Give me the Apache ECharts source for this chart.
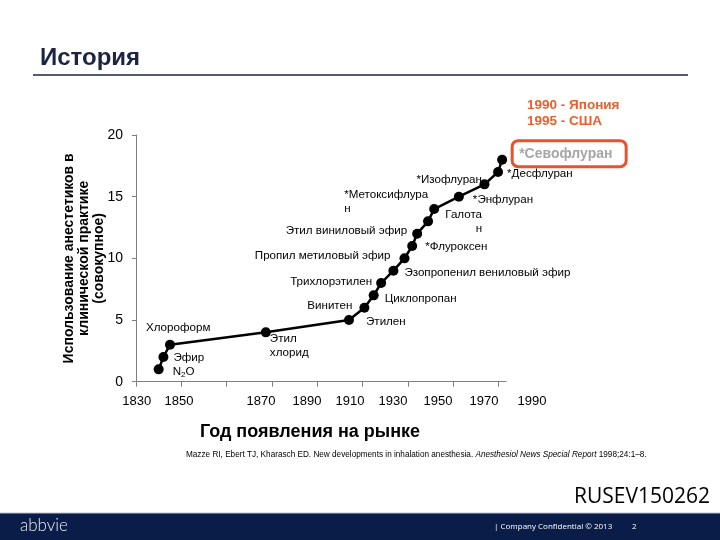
<!DOCTYPE html>
<html><head><meta charset="utf-8">
<script src="https://cdn.jsdelivr.net/npm/echarts@6/dist/echarts.min.js"></script>
<style>html,body{margin:0;padding:0;background:#fff}#c{width:720px;height:540px}</style>
</head><body><div id="c"></div>
<script>
// ---- data ----
const agentNames = ['N₂O','Эфир','Хлороформ','Этил\nхлорид','Этилен','Винитен','Циклопропан','Трихлорэтилен',
  'Эзопропенил вениловый эфир','Пропил метиловый эфир','*Флуроксен','Этил виниловый эфир','Галота\nн',
  '*Метоксифлура\nн','*Энфлуран','*Изофлуран','*Десфлуран','*Севофлуран'];
const introYears = [1840, 1842.1, 1845, 1887.3, 1924, 1930.8, 1934.9, 1938.2, 1943.6, 1948.5, 1951.9, 1954.1,
  1958.9, 1961.6, 1972.5, 1983.8, 1989.8, 1991.6];
const cumulativeCount = [1,2,3,4,5,6,7,8,9,10,11,12,13,14,15,16,17,18];
const xTickValues = [1830,1850,1870,1890,1910,1930,1950,1970,1990];
const xTickLabels = ['1830','1850','1870','1890','1910','1930','1950','1970','1990'];
// ---- layout (label placement relative to each point) ----
const xTickLabelPos = [1830.3, 1849, 1885.2, 1905.5, 1924.5, 1943.5, 1963.3, 1983.6, 2004.8];
const labelLayout = [
  [14,2,'left'],[10,1,'left'],[-24,-17,'left'],[4,13,'left'],[17,2,'left'],[-12,-2,'right'],
  [11,3,'left'],[-9,-1,'right'],[11,2,'left'],[-14,-3,'right'],[13,1,'left'],[-10,-3,'right'],
  [54,0,'right'],[-90,-7,'left'],[14,3.5,'left'],[-68,-4.5,'left'],[9,2,'left'],[10,-6,'left']
];
const FONT = '"Liberation Sans", Arial, sans-serif';

const seriesData = introYears.map((x, i) => {
  const [dx, dy, al] = labelLayout[i];
  const lbl = {
    show: true, position: 'inside', offset: [dx, dy], align: al, verticalAlign: 'middle',
    color: '#000', fontSize: 11.6, fontFamily: FONT, lineHeight: 14, textBorderWidth: 0,
    formatter: agentNames[i]
  };
  if (i === 0) {
    lbl.formatter = '{a|N}{s|2}{a|O}';
    lbl.rich = { a: {fontSize: 11.6, color: '#000', fontFamily: FONT}, s: {fontSize: 8, color: '#000', fontFamily: FONT, verticalAlign: 'bottom', padding: [6,0,0,0]} };
  }
  if (i === agentNames.length - 1) {
    Object.assign(lbl, {
      color: '#a6a6a6', fontWeight: 'bold', fontSize: 14, lineHeight: 16, width: 100,
      padding: [5, 7], borderColor: '#e8532b', borderWidth: 3, borderRadius: 6
    });
  }
  return { value: [x, cumulativeCount[i]], label: lbl };
});

const chart = echarts.init(document.getElementById('c'), null, {renderer: 'canvas'});
chart.setOption({
  animation: false,
  backgroundColor: '#fff',
  textStyle: {fontFamily: FONT},
  grid: [
    {left: 136, top: 135, width: 370, height: 246.7},
    {left: 136, top: 135, width: 407.7, height: 246.7}
  ],
  xAxis: [
    { type: 'value', gridIndex: 0, min: 1830, max: 1993.3,
      axisLine: {show: true, lineStyle: {color: '#7f7f7f', width: 1}},
      axisTick: {show: true, customValues: xTickValues, length: 5, lineStyle: {color: '#7f7f7f'}},
      axisLabel: {show: false}, splitLine: {show: false} },
    { type: 'value', gridIndex: 1, min: 1830, max: 2010,
      axisLine: {show: false}, axisTick: {show: false}, splitLine: {show: false},
      axisLabel: { show: true, customValues: xTickLabelPos, margin: 13, fontSize: 13, color: '#000', fontFamily: FONT,
        formatter: (v) => { const k = xTickLabelPos.findIndex(p => Math.abs(p - v) < 0.01); return k >= 0 ? xTickLabels[k] : ''; } } }
  ],
  yAxis: [
    { type: 'value', gridIndex: 0, min: 0, max: 20, interval: 5,
      axisLine: {show: true, lineStyle: {color: '#7f7f7f', width: 1}},
      axisTick: {show: true, length: 4, lineStyle: {color: '#7f7f7f'}},
      axisLabel: {fontSize: 14, color: '#000', margin: 13, fontFamily: FONT},
      splitLine: {show: false},
      name: 'Использование анестетиков в\nклинической практике\n(совокупное)',
      nameLocation: 'middle', nameRotate: 90, nameGap: 29, nameMoveOverlap: false,
      nameTextStyle: {fontSize: 14, fontWeight: 'bold', color: '#000', lineHeight: 15, fontFamily: FONT, align: 'center'} },
    { type: 'value', gridIndex: 1, show: false, min: 0, max: 20 }
  ],
  series: [{
    type: 'line', xAxisIndex: 0, yAxisIndex: 0, data: seriesData,
    symbol: 'circle', symbolSize: 10, showAllSymbol: true,
    lineStyle: {color: '#000', width: 2.5}, itemStyle: {color: '#000'},
    emphasis: {disabled: true}, z: 3
  }],
  graphic: [
    {type: 'text', x: 40, y: 58, style: {text: 'История', fontSize: 24, fontWeight: 'bold', fill: '#1b2441', fontFamily: FONT, verticalAlign: 'middle'}},
    {type: 'line', shape: {x1: 33, y1: 75, x2: 688, y2: 75}, style: {stroke: '#1b2441', lineWidth: 1.5}},
    {type: 'text', x: 527, y: 105, style: {text: '1990 - Япония', fontSize: 13.5, fontWeight: 'bold', fill: '#e8602c', fontFamily: FONT, verticalAlign: 'middle'}},
    {type: 'text', x: 527, y: 121, style: {text: '1995 - США', fontSize: 13.5, fontWeight: 'bold', fill: '#e8602c', fontFamily: FONT, verticalAlign: 'middle'}},
    {type: 'text', x: 310, y: 432, style: {text: 'Год появления на рынке', fontSize: 18, fontWeight: 'bold', fill: '#000', fontFamily: FONT, align: 'center', verticalAlign: 'middle'}},
    {type: 'text', x: 186, y: 455, style: {
      text: '{n|Mazze RI, Ebert TJ, Kharasch ED. New developments in inhalation anesthesia. }{i|Anesthesiol News Special Report}{n| 1998;24:1–8.}',
      verticalAlign: 'middle',
      rich: {n: {fontSize: 8.2, fill: '#000', fontFamily: FONT}, i: {fontSize: 8.2, fill: '#000', fontStyle: 'italic', fontFamily: FONT}}}},
    {type: 'text', x: 710, y: 497, style: {text: 'RUSEV150262', fontSize: 21, fill: '#000', fontFamily: '"Open Sans", sans-serif', align: 'right', verticalAlign: 'middle'}},
    {type: 'rect', shape: {x: 0, y: 513, width: 720, height: 27}, style: {fill: '#0a1d48'}},
    {type: 'line', shape: {x1: 0, y1: 513, x2: 720, y2: 513}, style: {stroke: '#b8c2d6', lineWidth: 1}},
    {type: 'text', x: 20, y: 526, style: {text: 'abbvie', fontSize: 17, fontWeight: 300, fill: '#e6e9f0', fontFamily: 'Lato, sans-serif', verticalAlign: 'middle', letterSpacing: 1}},
    {type: 'text', x: 494, y: 527, style: {text: '| Company Confidential © 2013', fontSize: 8, fill: '#ffffff', fontFamily: '"Open Sans", sans-serif', verticalAlign: 'middle'}},
    {type: 'text', x: 632, y: 527, style: {text: '2', fontSize: 8, fill: '#ffffff', fontFamily: '"Open Sans", sans-serif', verticalAlign: 'middle'}}
  ]
});
</script></body></html>
